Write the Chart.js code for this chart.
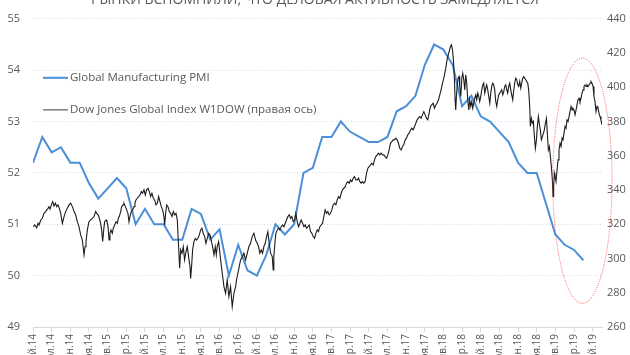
<!DOCTYPE html>
<html><head><meta charset="utf-8">
<script src="https://cdn.jsdelivr.net/npm/chart.js@4"></script>
<style>
html,body{margin:0;padding:0;background:#fff;overflow:hidden;width:630px;height:355px;}
#wrap{position:absolute;left:0;top:-20px;width:630px;height:400px;}
</style></head><body>
<div id="wrap"><canvas id="c"></canvas></div>
<script>
// ---------- DATA ----------
const titleText = "РЫНКИ ВСПОМНИЛИ, ЧТО ДЕЛОВАЯ АКТИВНОСТЬ ЗАМЕДЛЯЕТСЯ";
const pmiLabel = "Global Manufacturing PMI";
const djLabel = "Dow Jones Global Index W1DOW (правая ось)";
// x tick labels, every 2 months starting May 2014 (month offset 0)
const xTickLabels = ["май.14","июл.14","сен.14","ноя.14","янв.15","мар.15","май.15","июл.15","сен.15","ноя.15",
  "янв.16","мар.16","май.16","июл.16","сен.16","ноя.16","янв.17","мар.17","май.17","июл.17","сен.17","ноя.17",
  "янв.18","мар.18","май.18","июл.18","сен.18","ноя.18","янв.19","мар.19","май.19"];
// Global Manufacturing PMI, monthly May 2014 .. Apr 2019 (left axis)
const pmiValues = [52.2,52.7,52.4,52.5,52.2,52.2,51.8,51.5,51.7,51.9,51.7,51.0,51.3,51.0,51.0,50.7,50.7,51.3,51.2,50.7,
  50.9,50.0,50.6,50.1,50.0,50.4,51.0,50.8,51.0,52.0,52.1,52.7,52.7,53.0,52.8,52.7,52.6,52.6,52.7,53.2,
  53.3,53.5,54.1,54.5,54.4,54.1,53.3,53.5,53.1,53.0,52.8,52.6,52.2,52.0,52.0,51.4,50.8,50.6,50.5,50.3];
// Dow Jones Global Index W1DOW: [months since 1 May 2014, value] (right axis)
const djPoints = [
[0.04,318.6],[0.18,319.6],[0.40,318.0],[0.54,320.6],[0.65,319.6],[0.83,322.5],[1.00,323.5],[1.18,326.4],[1.36,327.4],[1.47,328.4],
[1.61,329.3],[1.72,330.3],[1.83,328.8],[1.97,331.3],[2.11,333.2],[2.25,330.7],[2.40,332.3],[2.54,330.3],[2.68,331.3],[2.83,329.3],
[2.97,326.4],[3.15,320.6],[3.33,324.5],[3.50,327.4],[3.68,329.3],[3.86,331.3],[4.04,332.3],[4.22,330.3],[4.40,327.4],[4.58,325.4],
[4.75,321.5],[4.93,318.6],[5.11,313.8],[5.29,310.8],[5.47,302.1],[5.58,306.9],[5.68,309.9],[5.83,316.7],[6.00,321.5],[6.18,322.5],
[6.36,323.5],[6.54,324.5],[6.72,327.4],[6.83,326.4],[7.00,325.4],[7.11,323.5],[7.25,320.6],[7.36,316.7],[7.47,309.9],[7.58,316.7],
[7.68,321.5],[7.83,322.5],[7.93,321.5],[8.04,318.6],[8.15,310.8],[8.25,314.7],[8.36,316.7],[8.50,314.7],[8.61,317.7],[8.75,319.6],
[8.90,321.5],[9.04,320.6],[9.15,323.5],[9.25,324.5],[9.40,327.4],[9.50,330.3],[9.65,331.3],[9.75,332.3],[9.90,330.3],[10.04,328.4],
[10.18,326.4],[10.29,321.5],[10.40,324.5],[10.54,327.4],[10.68,328.4],[10.83,330.3],[10.93,332.3],[11.04,334.2],[11.18,335.2],[11.33,336.2],
[11.47,337.1],[11.61,339.1],[11.75,338.1],[11.90,340.1],[12.04,337.1],[12.18,340.1],[12.33,341.0],[12.47,339.1],[12.61,336.2],[12.75,338.1],
[12.90,335.2],[13.04,334.2],[13.18,331.3],[13.33,332.3],[13.47,336.2],[13.61,333.2],[13.75,330.3],[13.90,328.4],[14.04,324.5],[14.11,319.6],
[14.22,326.4],[14.33,331.3],[14.47,330.3],[14.61,327.4],[14.75,326.4],[14.90,324.5],[15.04,327.4],[15.18,325.4],[15.33,326.4],[15.47,322.5],
[15.61,306.9],[15.72,294.3],[15.83,305.0],[15.97,303.0],[16.11,306.9],[16.25,299.2],[16.40,304.0],[16.54,306.9],[16.68,301.1],[16.83,295.3],
[16.90,288.4],[17.00,295.3],[17.11,305.0],[17.25,309.9],[17.40,311.8],[17.54,310.8],[17.68,311.8],[17.83,313.8],[17.97,316.7],[18.11,317.7],
[18.25,314.7],[18.40,312.8],[18.54,308.9],[18.68,311.8],[18.83,314.7],[18.97,313.8],[19.11,310.8],[19.25,306.9],[19.40,302.1],[19.54,306.9],
[19.65,302.1],[19.75,306.9],[19.90,309.9],[20.04,303.0],[20.18,296.2],
[20.29,291.4],[20.47,283.6],[20.65,279.7],[20.82,287.5],[21.00,277.7],[21.18,283.6],[21.36,271.9],[21.54,279.7],[21.72,283.6],[21.82,287.5],
[21.97,291.4],[22.11,295.3],[22.25,299.2],[22.43,301.1],[22.61,303.1],[22.79,299.2],[22.97,303.1],[23.15,307.0],[23.32,308.9],[23.50,312.8],
[23.68,314.7],[23.86,310.8],[24.04,308.9],[24.18,307.0],[24.32,303.1],[24.47,305.0],[24.61,303.1],[24.75,307.0],[24.90,308.9],[25.04,312.8],
[25.18,315.7],[25.32,308.9],[25.47,303.1],[25.65,301.1],[25.75,293.3],[25.82,301.1],[25.93,308.9],[26.04,314.7],[26.18,316.7],[26.32,317.7],
[26.47,316.7],[26.61,318.6],[26.75,319.6],[26.90,318.6],[27.04,320.6],[27.18,322.5],[27.32,324.5],[27.47,325.5],[27.61,323.5],[27.75,324.5],
[27.90,321.6],[28.04,322.5],[28.18,326.4],[28.32,321.6],[28.47,318.6],[28.61,320.6],[28.75,322.5],[28.90,320.6],[29.04,318.6],[29.18,319.6],
[29.32,317.7],[29.47,318.6],[29.61,319.6],[29.75,315.7],[29.90,314.7],[30.04,312.8],[30.18,311.8],[30.32,314.7],[30.47,316.7],[30.61,315.7],
[30.75,318.6],[30.90,319.6],[31.04,320.6],[31.18,324.5],[31.32,328.4],[31.47,326.4],[31.61,327.4],[31.75,325.5],[31.90,326.4],[32.04,328.4],
[32.18,331.3],[32.32,332.3],[32.47,331.3],[32.61,334.2],[32.75,336.2],[32.90,335.2],[33.04,338.1],[33.18,340.1],[33.32,341.0],[33.47,342.0],
[33.61,344.0],[33.75,344.9],[33.90,344.0],[34.04,345.9],[34.18,344.9],[34.32,346.9],[34.47,347.9],[34.61,345.9],[34.75,345.9],[34.90,346.9],
[35.04,344.9],[35.18,344.0],[35.32,344.9],[35.47,344.0],[35.61,344.9],[35.75,349.8],[35.90,352.7],[36.04,353.7],[36.18,354.7],[36.32,355.6],
[36.47,354.7],[36.61,357.6],[36.75,359.5],[36.90,360.5],[37.04,361.5],[37.18,360.5],[37.32,361.5],[37.47,360.5],[37.61,360.5],[37.75,359.5],
[37.90,358.6],[38.04,360.5],[38.18,363.4],[38.32,367.3],[38.47,368.3],[38.61,369.3],[38.75,369.3],[38.90,370.3],[39.04,369.3],[39.18,367.3],
[39.32,364.4],[39.47,363.4],[39.61,365.4],[39.75,366.4],[39.90,369.3],[40.04,370.3],[40.18,372.2],[40.32,373.2],[40.47,375.1],[40.61,376.1],
[40.75,375.1],[40.90,377.1],[41.04,379.0],[41.18,381.0],[41.32,382.0],[41.47,382.9],[41.61,382.0],[41.75,383.9],[41.90,385.8],[42.04,383.9],
[42.18,382.0],[42.32,381.0],[42.47,384.9],[42.61,388.8],[42.75,389.7],[42.90,390.7],[43.04,387.8],[43.18,389.7],[43.32,390.7],[43.47,392.7],
[43.61,395.6],[43.75,398.5],[43.90,402.4],[44.04,405.3],
[44.22,410.2],[44.39,416.0],[44.57,419.9],[44.75,423.8],[44.86,424.8],[44.97,421.9],[45.07,416.0],[45.18,404.4],[45.25,392.7],[45.32,386.8],
[45.39,394.6],[45.47,400.5],[45.57,405.3],[45.68,406.3],[45.75,400.5],[45.86,394.6],[45.97,405.3],[46.07,408.2],[46.18,404.4],[46.29,398.5],
[46.39,407.3],[46.50,402.4],[46.61,392.7],[46.72,386.8],[46.82,392.7],[46.93,388.8],[47.04,391.7],[47.14,387.8],[47.25,390.7],[47.36,393.6],
[47.47,395.6],[47.57,392.7],[47.68,396.6],[47.79,394.6],[47.89,391.7],[48.00,394.6],[48.11,398.5],[48.22,401.4],[48.32,402.4],[48.43,396.6],
[48.54,399.5],[48.64,401.4],[48.75,398.5],[48.86,394.6],[48.97,390.7],[49.07,396.6],[49.18,400.5],[49.29,402.4],[49.39,401.4],[49.50,398.5],
[49.61,391.7],[49.72,388.8],[49.82,392.7],[49.93,395.6],[50.04,396.6],[50.14,397.5],[50.25,398.5],[50.36,395.6],[50.47,397.5],[50.57,400.5],
[50.68,401.4],[50.79,398.5],[50.89,396.6],[51.00,400.5],[51.11,402.4],[51.22,398.5],[51.32,395.6],[51.43,392.7],[51.54,398.5],[51.64,402.4],
[51.75,405.3],[51.86,404.4],[51.97,401.4],[52.07,400.5],[52.18,403.4],[52.29,399.5],[52.39,402.4],[52.50,405.3],[52.61,406.3],[52.72,405.3],
[52.82,404.4],[52.93,403.4],[53.04,402.4],[53.14,398.5],[53.25,388.8],[53.32,377.1],[53.43,381.9],[53.54,379.0],[53.64,380.0],[53.75,371.2],
[53.86,364.4],[53.97,369.3],[54.07,377.1],[54.18,382.9],[54.29,378.1],[54.39,375.1],[54.50,369.3],[54.61,371.2],[54.72,373.2],[54.82,375.1],
[54.93,379.0],[55.04,381.9],[55.14,373.2],[55.25,363.4],[55.36,365.4],[55.47,359.5],[55.57,353.7],[55.68,345.9],[55.75,336.2],[55.82,342.0],
[55.89,349.8],[55.96,347.9],[56.07,344.9],[56.18,351.7],[56.29,357.6],[56.39,363.4],[56.50,367.3],[56.61,365.4],[56.72,370.3],[56.82,369.3],
[56.93,373.2],[57.04,377.1],[57.14,376.1],[57.25,381.0],[57.36,380.0],[57.47,382.9],[57.57,385.8],[57.68,388.8],[57.79,386.8],[57.89,387.8],
[58.00,386.8],[58.11,383.9],[58.22,386.8],[58.32,389.7],[58.43,392.7],[58.54,393.6],[58.64,391.7],[58.75,393.6],[58.86,396.6],[58.97,398.5],
[59.07,400.5],[59.18,401.4],[59.29,400.5],[59.39,401.4],[59.50,400.5],[59.61,401.4],[59.72,402.4],[59.82,403.4],[59.93,402.4],[60.04,400.5],
[60.14,394.6],[60.25,391.7],[60.36,385.8],[60.47,388.8],[60.57,387.8],[60.68,384.9],[60.79,382.9],[60.89,381.0],[61.00,378.1]
];
// Highlight ellipse (data units: month offset / right-axis value)
const highlight = {month: 58.9, value: 345.4, halfMonths: 3.18, halfValue: 71.6};

// ---------- CHART ----------
Chart.defaults.font.family = "'Open Sans', 'Noto Sans', sans-serif";
const gray = '#595959';
const pmiColor = '#4a8fd8';
const djColor = '#1c1c1c';

const insideLegend = {
  id: 'insideLegend',
  afterDraw(chart) {
    const {ctx, chartArea: a} = chart;
    const items = [
      {text: chart.data.datasets[1].label, color: pmiColor, w: 2, dy: 59},
      {text: chart.data.datasets[0].label, color: '#7f7f7f', w: 1.5, dy: 91}
    ];
    ctx.save();
    ctx.font = "11.5px 'Open Sans', 'Noto Sans', sans-serif";
    ctx.textBaseline = 'middle';
    ctx.fillStyle = gray;
    items.forEach(it => {
      const y = a.top + it.dy;
      ctx.beginPath();
      ctx.strokeStyle = it.color; ctx.lineWidth = it.w;
      ctx.moveTo(a.left + 10, y); ctx.lineTo(a.left + 35, y); ctx.stroke();
      ctx.fillText(it.text, a.left + 37, y);
    });
    ctx.restore();
  }
};

const ellipsePlugin = {
  id: 'ellipse',
  afterDraw(chart) {
    const {ctx} = chart;
    const xs = chart.scales.x, ys = chart.scales.yR;
    const cx = xs.getPixelForValue(highlight.month);
    const cy = ys.getPixelForValue(highlight.value);
    const rx = Math.abs(xs.getPixelForValue(highlight.month + highlight.halfMonths) - cx);
    const ry = Math.abs(ys.getPixelForValue(highlight.value + highlight.halfValue) - cy);
    ctx.save();
    ctx.beginPath();
    ctx.setLineDash([1, 1.2]);
    ctx.strokeStyle = 'rgba(255,40,40,0.75)';
    ctx.lineWidth = 1;
    ctx.ellipse(cx, cy, rx, ry, 0, 0, Math.PI * 2);
    ctx.stroke();
    ctx.restore();
  }
};

new Chart(document.getElementById('c'), {
  type: 'line',
  data: {
    datasets: [
      {label: djLabel, data: djPoints.map(p => ({x: p[0], y: p[1]})), yAxisID: 'yR',
       borderColor: djColor, borderWidth: 1.1, pointRadius: 0, tension: 0, order: 0},
      {label: pmiLabel, data: pmiValues.map((v, i) => ({x: i, y: v})), yAxisID: 'yL',
       borderColor: pmiColor, borderWidth: 2, pointRadius: 0, tension: 0, order: 1}
    ]
  },
  options: {
    responsive: true, maintainAspectRatio: false, animation: false,
    layout: {padding: 0},
    plugins: {
      legend: {display: false},
      tooltip: {enabled: false},
      title: {display: true, text: titleText, color: gray,
              font: {size: 14, weight: 'normal'}, padding: {top: 12, bottom: 10}}
    },
    scales: {
      x: {
        type: 'linear', position: 'bottom', min: 0, max: 61,
        ticks: {stepSize: 2, includeBounds: false, autoSkip: false, minRotation: 90, maxRotation: 90,
                padding: 2, color: gray, font: {size: 10},
                callback: v => (Number.isInteger(v / 2) && xTickLabels[v / 2]) ? xTickLabels[v / 2] : ''},
        grid: {drawOnChartArea: false, drawTicks: true, tickLength: 5, color: '#d9d9d9'},
        border: {display: true, color: '#d9d9d9'},
        afterFit: s => { s.height = 53; }
      },
      yL: {
        position: 'left', min: 49, max: 55,
        ticks: {stepSize: 1, padding: 13, color: gray, font: {size: 11}},
        grid: {color: '#d3dcef', drawTicks: false, lineWidth: 1},
        border: {display: false, dash: [1, 2]},
        afterFit: s => { s.width = 33; }
      },
      yR: {
        position: 'right', min: 260, max: 440,
        ticks: {stepSize: 20, padding: 5, color: gray, font: {size: 11}},
        grid: {display: false, drawTicks: false},
        border: {display: false},
        afterFit: s => { s.width = 28; }
      }
    }
  },
  plugins: [insideLegend, ellipsePlugin]
});
</script>
</body></html>
